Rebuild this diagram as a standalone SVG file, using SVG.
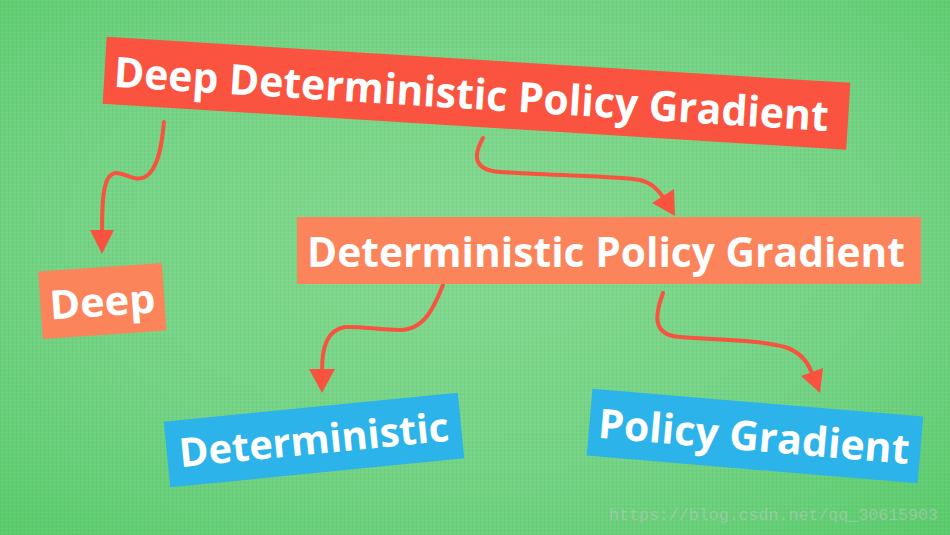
<svg xmlns="http://www.w3.org/2000/svg" width="950" height="535" viewBox="0 0 950 535">
<defs>
<radialGradient id="bg" cx="50%" cy="45%" r="75%">
<stop offset="0" stop-color="#84d990"/>
<stop offset="0.6" stop-color="#72d383"/>
<stop offset="1" stop-color="#58cb6b"/>
</radialGradient>
<pattern id="weave" width="4" height="4" patternUnits="userSpaceOnUse">
<rect width="4" height="1" fill="#ffffff" fill-opacity="0.06"/>
<rect width="1" height="4" fill="#000000" fill-opacity="0.03"/>
</pattern>
</defs>
<style>
.lbl{font-family:"Open Sans","Noto Sans","DejaVu Sans",sans-serif;font-weight:700;fill:#ffffff;text-anchor:middle}
.red{fill:#fa5340}
.orange{fill:#fc845b}
.blue{fill:#2cb3ea}
.arrow{fill:none;stroke:#f8533f;stroke-width:4;stroke-linecap:round}
.head{fill:#f8533f}
.wm{font-family:"Liberation Mono","DejaVu Sans Mono",monospace;font-size:16.6px;fill:#c9c9c9;fill-opacity:0.5}
</style>
<rect width="950" height="535" fill="url(#bg)"/>
<rect width="950" height="535" fill="url(#weave)"/>

<g id="connectors">
<path class="arrow" d="M164,122 C162,145 158,170 145,177 C133,182 125,172 115,173 C105,175 102,190 102,232"/>
<polygon class="head" points="90,230 114,230 102,254"/>
<path class="arrow" d="M483,138 C475,152 470,170 500,172 C560,176 620,176 640,180 C652,183 658,190 663,197"/>
<polygon class="head" points="652,203 674,189 675,216"/>
<path class="arrow" d="M443,285 C435,305 425,330 400,330 C380,330 360,326 345,327 C328,330 322,345 322,371"/>
<polygon class="head" points="309,369 335,369 322,393"/>
<path class="arrow" d="M663,293 C656,312 650,335 680,337 C720,340 760,340 785,347 C800,352 807,361 811,371"/>
<polygon class="head" points="801,376 823,368 820,393"/>
</g>

<g id="ddpg" transform="translate(476.5,93.3) rotate(3.54)">
<rect class="red" x="-372.5" y="-33.5" width="745" height="67"/>
<text class="lbl" x="-5" y="16" font-size="42" textLength="716" lengthAdjust="spacingAndGlyphs">Deep Deterministic Policy Gradient</text>
</g>

<g id="dpg">
<rect class="orange" x="297" y="217" width="624" height="67"/>
<text class="lbl" x="606" y="267" font-size="41" textLength="598" lengthAdjust="spacingAndGlyphs">Deterministic Policy Gradient</text>
</g>

<g id="deep" transform="translate(102.3,301) rotate(-3.9)">
<rect class="orange" x="-62" y="-33.75" width="124" height="67.5"/>
<text class="lbl" x="0" y="15" font-size="40" textLength="106" lengthAdjust="spacingAndGlyphs">Deep</text>
</g>

<g id="deterministic" transform="translate(314,440) rotate(-5.63)">
<rect class="blue" x="-147.7" y="-33" width="295.4" height="66"/>
<text class="lbl" x="0" y="14" font-size="40" textLength="271" lengthAdjust="spacingAndGlyphs">Deterministic</text>
</g>

<g id="policy-gradient" transform="translate(755,436) rotate(4.83)">
<rect class="blue" x="-166" y="-33.5" width="332" height="67"/>
<text class="lbl" x="-1" y="15" font-size="41" textLength="312" lengthAdjust="spacingAndGlyphs">Policy Gradient</text>
</g>

<text class="wm" x="609" y="520" textLength="329">https://blog.csdn.net/qq_30615903</text>
</svg>
